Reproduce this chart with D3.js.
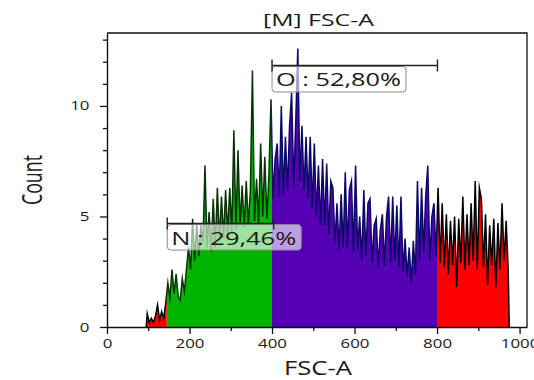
<!DOCTYPE html>
<html><head><meta charset="utf-8">
<script src="https://cdn.jsdelivr.net/npm/d3@7"></script>
<style>html,body{margin:0;padding:0;background:#fff;}svg{display:block;}</style>
</head><body>
<svg id="chart" width="534" height="380"></svg>
<script>
// ---- data ----
const chartTitle = "[M] FSC-A";
const xTitle = "FSC-A";
const yTitle = "Count";
const binStart = 95;      // FSC-A value of first bin
const binWidth = 5;       // FSC-A units per bin
const counts = [
  0.6,0.2,0.4,0.2,0.5,1.0,0.3,0.7,0.4,1.1,
  2.0,1.3,2.6,1.5,2.4,1.4,1.2,2.2,1.6,2.6,
  3.6,2.6,4.9,3.0,4.7,3.2,4.6,3.8,7.3,3.6,
  5.2,3.4,5.8,3.6,6.3,3.9,5.9,4.0,6.2,4.2,
  6.3,4.3,8.9,4.4,8.0,4.6,6.4,4.5,6.6,4.6,
  6.2,11.6,4.8,6.7,4.7,8.3,5.0,7.7,4.9,6.9,
  10.3,5.8,7.6,8.3,5.9,10.0,6.0,8.6,6.2,9.1,
  10.6,6.4,9.3,12.6,6.6,9.1,6.2,8.6,5.8,8.6,
  5.4,8.3,5.0,7.3,4.6,7.6,4.6,7.4,4.2,6.6,
  6.3,3.8,5.6,3.5,6.0,3.6,7.0,3.6,6.2,6.6,
  3.4,7.3,3.5,5.0,3.0,6.2,3.2,5.6,5.8,2.9,
  4.6,4.9,2.7,4.4,5.1,2.8,5.0,5.9,2.9,5.9,
  3.0,5.5,2.7,5.9,2.5,4.0,2.3,3.6,2.0,3.9,
  2.4,6.6,3.0,6.3,3.4,5.9,7.3,3.0,5.0,5.6,
  3.2,6.3,2.9,5.6,2.7,5.1,2.4,4.8,2.8,5.0,
  1.8,4.9,2.9,5.9,2.6,5.1,2.8,5.6,3.0,6.6,
  2.6,6.3,5.8,2.7,5.1,1.9,4.6,2.8,4.9,1.8,
  4.7,2.6,5.6,3.0,4.8,2.5
];
// colour regions (FSC-A boundaries)
const regionFrom = [0, 145, 400, 800];
const regionTo   = [145, 400, 800, 1018];
const regionFill   = ["#ff0000", "#00b400", "#5500b4", "#ff0000"];
const regionStroke = ["#000000", "#0a320a", "#0a0a66", "#000000"];
// gates
const gateStart = [146, 400];
const gateEnd   = [404, 801];
const gateLevel = [4.68, 11.83];
const gateLabel = ["N : 29,46%", "O : 52,80%"];
// ticks
const xMajor = [0, 200, 400, 600, 800, 1000];
const xMinor = [100, 300, 500, 700, 900];
const yMajor = [0, 5, 10];
const yMinor = [1,2,3,4,6,7,8,9,11,12,13];

// ---- layout ----
const svg = d3.select("#chart");
const L = 107, R = 527, T = 33, B = 327;
const x = d3.scaleLinear().domain([0, 1018]).range([L, R]);
const y = d3.scaleLinear().domain([0, 13.3]).range([B, T]);
const font = "'Open Sans', 'DejaVu Sans', sans-serif";
const ink = "#1a1a1a";

// points at bin centres, closed to zero at both ends
const pts = [{v: binStart, c: 0}];
counts.forEach((c, i) => pts.push({v: binStart + (i + 0.5) * binWidth, c}));
pts.push({v: binStart + counts.length * binWidth, c: 0});

const area = d3.area().x(d => x(d.v)).y0(y(0)).y1(d => y(d.c));
const line = d3.line().x(d => x(d.v)).y(d => y(d.c));

const defs = svg.append("defs");
regionFrom.forEach((a, i) => {
  defs.append("clipPath").attr("id", "clip" + i)
    .append("rect").attr("x", x(a)).attr("y", 0)
    .attr("width", x(regionTo[i]) - x(a)).attr("height", B);
});
const hist = svg.append("g");
regionFrom.forEach((a, i) => {
  const g = hist.append("g").attr("clip-path", `url(#clip${i})`);
  g.append("path").datum(pts).attr("d", area).attr("fill", regionFill[i]);
  g.append("path").datum(pts).attr("d", line).attr("fill", "none")
    .attr("stroke", regionStroke[i]).attr("stroke-width", 1.5).attr("stroke-linejoin", "miter")
    .attr("stroke-miterlimit", 10);
});

// frame top & right
svg.append("path").attr("d", `M${L},${T}H${R}V${B}`).attr("fill", "none")
  .attr("stroke", "#111").attr("stroke-width", 1.3);

// axes
function styleAxis(g) {
  g.select(".domain").attr("stroke", "#111").attr("stroke-width", 1.4);
  g.selectAll(".tick line").attr("stroke", "#111").attr("stroke-width", 1.3);
  g.selectAll(".tick text").attr("fill", ink).style("font-family", font).style("font-size", "12.5px");
}
const xAx = svg.append("g").attr("transform", `translate(0,${B})`)
  .call(d3.axisBottom(x).tickValues(xMajor).tickFormat(d3.format("d")).tickSize(7).tickPadding(5).tickSizeOuter(0));
styleAxis(xAx);
xAx.selectAll(".tick text").attr("transform", "scale(1.35,1)");
svg.append("g").attr("transform", `translate(0,${B})`)
  .call(d3.axisBottom(x).tickValues(xMinor).tickSize(4).tickFormat("").tickSizeOuter(0))
  .call(g => { g.select(".domain").remove(); g.selectAll("line").attr("stroke", "#111").attr("stroke-width", 1.3); });

const yAx = svg.append("g").attr("transform", `translate(${L},0)`)
  .call(d3.axisLeft(y).tickValues(yMajor).tickSize(7).tickPadding(6).tickSizeOuter(0));
styleAxis(yAx);
yAx.selectAll(".tick text").attr("transform", "scale(1.35,1)");
svg.append("g").attr("transform", `translate(${L},0)`)
  .call(d3.axisLeft(y).tickValues(yMinor).tickSize(4).tickFormat("").tickSizeOuter(0))
  .call(g => { g.select(".domain").remove(); g.selectAll("line").attr("stroke", "#111").attr("stroke-width", 1.3); });

// gates
gateStart.forEach((s, i) => {
  const g = svg.append("g");
  const x0 = x(s), x1 = x(gateEnd[i]), yy = y(gateLevel[i]);
  g.append("rect").attr("x", x0).attr("y", yy + 1).attr("width", 134).attr("height", 25.5)
    .attr("rx", 3.5).attr("fill", "rgba(255,255,255,0.62)").attr("stroke", "#8a8a8a").attr("stroke-width", 1);
  g.append("path").attr("d", `M${x0},${yy}H${x1}M${x0},${yy - 6}V${yy + 6}M${x1},${yy - 6}V${yy + 6}`)
    .attr("stroke", "#222").attr("stroke-width", 1.4).attr("fill", "none");
  g.append("text").attr("x", x0 + 4).attr("y", yy + 21).text(gateLabel[i])
    .attr("fill", ink).style("font-family", font).style("font-size", "18px")
    .attr("textLength", 125).attr("lengthAdjust", "spacingAndGlyphs");
});

// titles
svg.append("text").attr("x", 318.5).attr("y", 26).attr("text-anchor", "middle")
  .text(chartTitle).attr("fill", ink).style("font-family", font).style("font-size", "15.5px")
  .attr("textLength", 111).attr("lengthAdjust", "spacingAndGlyphs");
svg.append("text").attr("x", 318).attr("y", 375).attr("text-anchor", "middle")
  .text(xTitle).attr("fill", ink).style("font-family", font).style("font-size", "20px")
  .attr("textLength", 68).attr("lengthAdjust", "spacingAndGlyphs");
svg.append("text").attr("transform", "translate(41.5,180) rotate(-90)").attr("text-anchor", "middle")
  .text(yTitle).attr("fill", ink).style("font-family", font).style("font-size", "28px")
  .attr("textLength", 50).attr("lengthAdjust", "spacingAndGlyphs");
</script>
</body></html>
